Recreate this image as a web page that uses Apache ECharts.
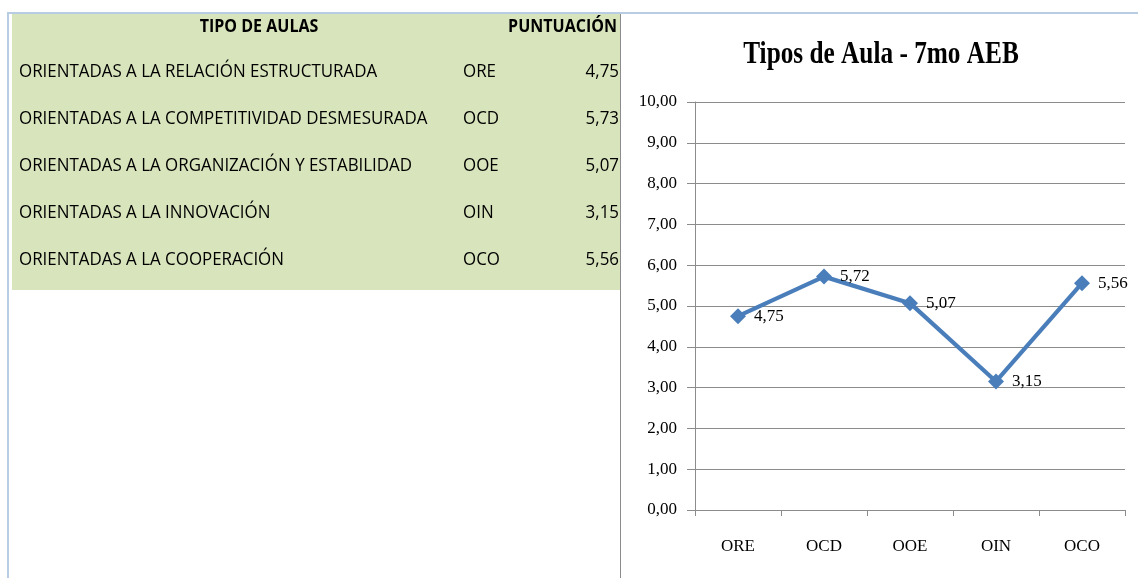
<!DOCTYPE html>
<html lang="es">
<head>
    <meta charset="UTF-8">
    <title>Tipos de Aula - 7mo AEB</title>
    <script src="https://cdn.jsdelivr.net/npm/echarts@6.0.0/dist/echarts.min.js"></script>
    <style>
        html, body { margin: 0; padding: 0; background: #fff; }
        #main { width: 1138px; height: 578px; }
    </style>
</head>
<body>
    <div id="main"></div>

    <script>
        // datos de la tabla
        var tipos = [
            'ORIENTADAS A LA RELACIÓN ESTRUCTURADA',
            'ORIENTADAS A LA COMPETITIVIDAD DESMESURADA',
            'ORIENTADAS A LA ORGANIZACIÓN Y ESTABILIDAD',
            'ORIENTADAS A LA INNOVACIÓN',
            'ORIENTADAS A LA COOPERACIÓN'
        ];
        var codigos = ['ORE', 'OCD', 'OOE', 'OIN', 'OCO'];
        var puntuacionTabla = [4.75, 5.73, 5.07, 3.15, 5.56];

        // datos del grafico
        var puntuacionGrafico = [4.75, 5.72, 5.07, 3.15, 5.56];
        var yMin = 0, yMax = 10, yStep = 1;

        function coma(v) {
            return v.toFixed(2).replace('.', ',');
        }

        var chart = echarts.init(document.getElementById('main'));

        var tablaFont = '"Open Sans", "Noto Sans", sans-serif';
        var sx = 0.89;

        // tabla a la izquierda
        var graficos = [
            { type: 'rect', shape: { x: 12, y: 14, width: 608, height: 276 }, style: { fill: '#d8e4bc' }, silent: true },
            { type: 'rect', shape: { x: 7, y: 12, width: 1131, height: 2 }, style: { fill: '#b8cce4' }, silent: true },
            { type: 'rect', shape: { x: 7, y: 12, width: 2, height: 566 }, style: { fill: '#b8cce4' }, silent: true },
            { type: 'rect', shape: { x: 620, y: 14, width: 1, height: 564 }, style: { fill: '#8c8c8c' }, silent: true },
            {
                type: 'text', x: 259, y: 27, scaleX: sx,
                style: { text: 'TIPO DE AULAS', font: 'bold 18px ' + tablaFont, fill: '#000', align: 'center', verticalAlign: 'middle' }
            },
            {
                type: 'text', x: 617, y: 27, scaleX: sx,
                style: { text: 'PUNTUACIÓN', font: 'bold 18px ' + tablaFont, fill: '#000', align: 'right', verticalAlign: 'middle' }
            },
            {
                type: 'text', x: 881, y: 55, scaleX: 0.79,
                style: { text: 'Tipos de Aula - 7mo AEB', font: 'bold 32px "Liberation Serif", serif', fill: '#000', align: 'center', verticalAlign: 'middle' }
            }
        ];

        tipos.forEach(function (t, i) {
            var y = 72 + i * 46.8;
            graficos.push({
                type: 'text', x: 19, y: y, scaleX: sx,
                style: { text: t, font: '19px ' + tablaFont, fill: '#000', align: 'left', verticalAlign: 'middle' }
            });
            graficos.push({
                type: 'text', x: 463, y: y, scaleX: sx,
                style: { text: codigos[i], font: '19px ' + tablaFont, fill: '#000', align: 'left', verticalAlign: 'middle' }
            });
            graficos.push({
                type: 'text', x: 619, y: y, scaleX: sx,
                style: { text: coma(puntuacionTabla[i]), font: '19px ' + tablaFont, fill: '#000', align: 'right', verticalAlign: 'middle' }
            });
        });

        var serif = '"Liberation Serif", "Times New Roman", serif';

        var option = {
            backgroundColor: '#fff',
            animation: false,
            graphic: { elements: graficos },
            grid: { left: 695, top: 102, right: 13, bottom: 68, containLabel: false },
            xAxis: {
                type: 'category',
                data: codigos,
                boundaryGap: true,
                axisLine: { lineStyle: { color: '#8c8c8c', width: 1 } },
                axisTick: { show: true, length: 6, alignWithLabel: false, lineStyle: { color: '#8c8c8c' } },
                axisLabel: { margin: 28, color: '#000', fontFamily: serif, fontSize: 17 },
                splitLine: { show: false }
            },
            yAxis: {
                type: 'value',
                min: yMin,
                max: yMax,
                interval: yStep,
                axisLine: { show: true, lineStyle: { color: '#8c8c8c', width: 1 } },
                axisTick: { show: true, inside: false, length: 8, lineStyle: { color: '#8c8c8c' } },
                axisLabel: { margin: 18, color: '#000', fontFamily: serif, fontSize: 17, formatter: function (v) { return coma(v); } },
                splitLine: { show: true, lineStyle: { color: '#8c8c8c', width: 1 } }
            },
            series: [{
                type: 'line',
                data: puntuacionGrafico,
                symbol: 'diamond',
                symbolSize: 16,
                lineStyle: { color: '#4a7ebb', width: 4.2 },
                itemStyle: { color: '#4a7ebb' },
                label: {
                    show: true,
                    position: 'right',
                    distance: 8,
                    color: '#000',
                    fontFamily: serif,
                    fontSize: 17,
                    formatter: function (p) { return coma(p.value); }
                }
            }]
        };

        chart.setOption(option);
    </script>
</body>
</html>
